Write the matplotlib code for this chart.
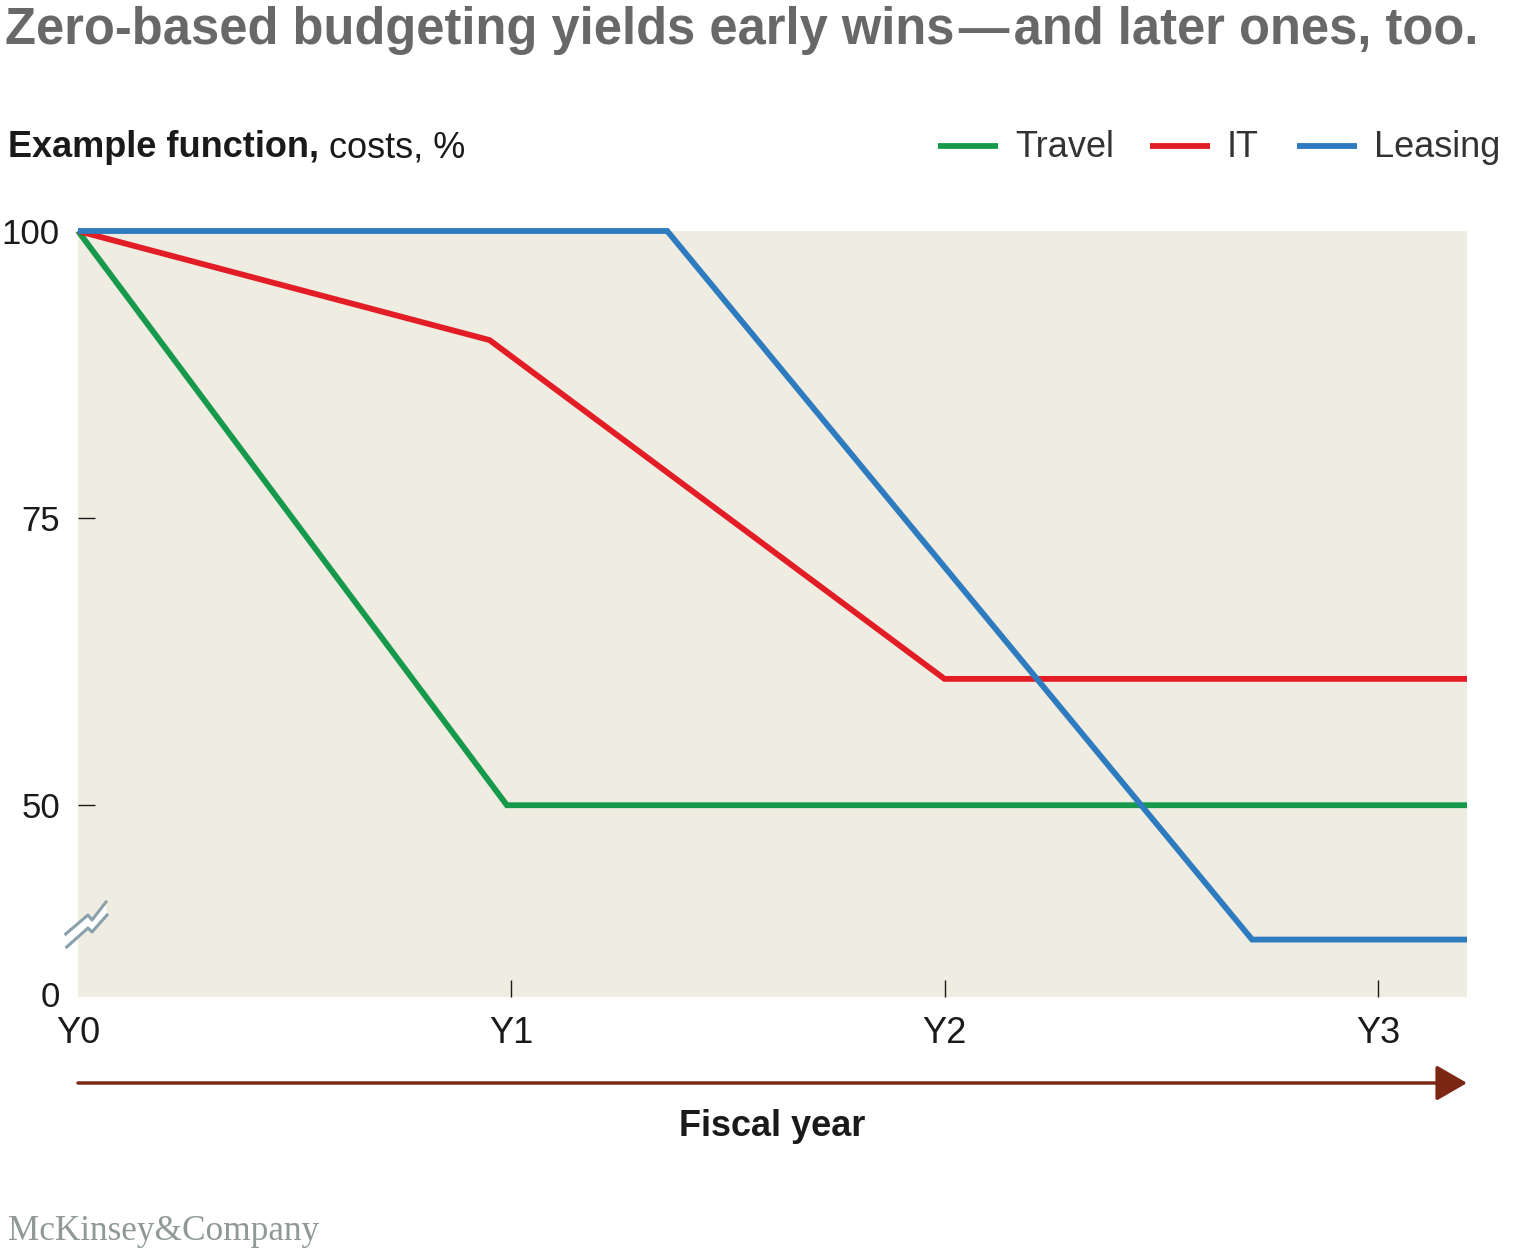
import matplotlib.pyplot as plt
from matplotlib.lines import Line2D
from matplotlib.patches import Polygon

plt.rcParams['font.family'] = ['Liberation Sans', 'DejaVu Sans']

# data (y is in the broken-axis display scale)
travel_x = [0, 0.99, 3.206]
travel_y = [100, 50, 50]
it_x = [0, 0.95, 2.0, 3.206]
it_y = [100, 90.5, 61, 61]
leasing_x = [0, 1.36, 2.71, 3.206]
leasing_y = [100, 100, 38.3, 38.3]

year_ticks = [0, 1, 2, 3]
year_labels = ['Y0', 'Y1', 'Y2', 'Y3']
y_ticks = [33.6, 50, 75, 100]
y_labels = ['0', '50', '75', '100']

GREEN = '#17994b'
RED = '#e31d25'
BLUE = '#2e7bc0'
BEIGE = '#efece1'
BROWN = '#7b2713'
BREAK = '#8aa0ad'
TXT = '#1a1a1a'

W, H = 1536, 1256
fig = plt.figure(figsize=(W / 100, H / 100), dpi=100)

def fx(px):
    return px / W

def fy(py):
    return 1 - py / H

ax = fig.add_axes([fx(78), fy(997), fx(1467) - fx(78), fy(231) - fy(997)])
ax.set_facecolor(BEIGE)
for s in ax.spines.values():
    s.set_visible(False)

lw = 4.2
for xs, ys, c in [(travel_x, travel_y, GREEN), (it_x, it_y, RED), (leasing_x, leasing_y, BLUE)]:
    ax.plot(xs, ys, color=c, lw=lw, solid_capstyle='butt', solid_joinstyle='miter', clip_on=False)

ax.set_xlim(0, 3.206)
ax.set_ylim(33.3, 100)

ax.set_xticks(year_ticks)
ax.set_xticklabels(year_labels)
ax.set_yticks(y_ticks)
ax.set_yticklabels(y_labels)
ax.tick_params(axis='both', direction='in', length=12, width=1, color=TXT,
               labelcolor=TXT)
ax.tick_params(axis='x', pad=14, labelsize=26)
ax.tick_params(axis='y', pad=13, labelsize=25)
ax.xaxis.get_major_ticks()[0].tick1line.set_visible(False)
ax.yaxis.get_major_ticks()[0].tick1line.set_visible(False)
ax.yaxis.get_major_ticks()[-1].tick1line.set_visible(False)

# axis break marker
tr = fig.transFigure
line1 = [(65.7, 934), (88, 915), (92, 920), (106, 902)]
line2 = [(66.7, 947), (88, 928), (92, 932), (107, 915)]
gap = [(fx(x), fy(y)) for x, y in line1 + line2[::-1]]
fig.patches.append(Polygon(gap, closed=True, transform=tr, facecolor='white', edgecolor='none', zorder=5))
for pts in (line1, line2):
    fig.lines.append(Line2D([fx(x) for x, y in pts], [fy(y) for x, y in pts],
                            transform=tr, color=BREAK, lw=2.2, zorder=6))

# title and subtitle
title = fig.text(fx(5), fy(44), 'Zero-based budgeting yields early wins\u200a\u2014\u200aand later ones, too.',
                 fontsize=35, fontweight='bold', color='#686868', va='baseline', ha='left')
fig.canvas.draw()
tw = title.get_window_extent().width
title.set_fontsize(35 * 1470 / tw)

t1 = fig.text(fx(8), fy(157), 'Example function,', fontsize=26, fontweight='bold',
              color=TXT, va='baseline', ha='left')
fig.canvas.draw()
bb = t1.get_window_extent()
fig.text(bb.x1 / W + fx(10), fy(157), 'costs, %', fontsize=26, color=TXT,
         va='baseline', ha='left')

# legend
legend_items = [('Travel', GREEN, 938), ('IT', RED, 1150), ('Leasing', BLUE, 1297)]
for name, c, x0 in legend_items:
    fig.lines.append(Line2D([fx(x0), fx(x0 + 60)], [fy(146), fy(146)], transform=tr,
                            color=c, lw=lw, solid_capstyle='butt'))
    fig.text(fx(x0 + 77), fy(157), name, fontsize=26, color='#333333',
             va='baseline', ha='left')

# fiscal year arrow
ax.annotate('', xy=(fx(1467), fy(1083)), xytext=(fx(78), fy(1083)),
            xycoords='figure fraction', textcoords='figure fraction',
            arrowprops=dict(arrowstyle='-|>,head_length=1.9,head_width=1.1',
                            mutation_scale=10, color=BROWN, lw=2.5,
                            shrinkA=0, shrinkB=0))
fig.text(fx(772), fy(1136), 'Fiscal year', fontsize=26, fontweight='bold',
         color=TXT, ha='center', va='baseline')

fig.text(fx(8), fy(1240), 'McKinsey&Company', fontsize=25.4, color='#8f9a94',
         family='Liberation Serif', ha='left', va='baseline')

fig.savefig('out.png', dpi=100)
